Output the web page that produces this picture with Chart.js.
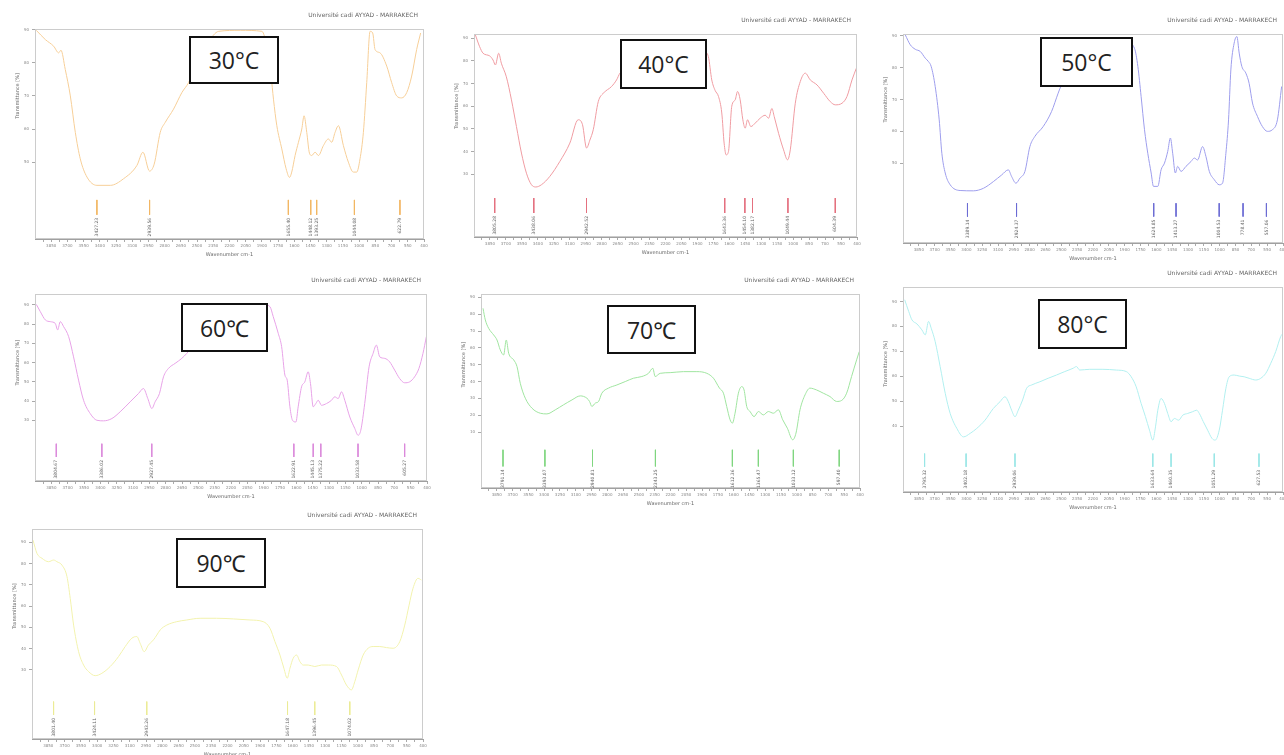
<!DOCTYPE html>
<html lang="en">
<head>
  <meta charset="UTF-8">
  <title>FTIR spectra 30-90 °C</title>
  <script src="https://cdn.jsdelivr.net/npm/chart.js"></script>
  <style>
    body { margin: 0; width: 1284px; height: 755px; overflow: hidden; position: relative; background: #fff; }
    .panel { position: absolute; }
    .tag {
      position: absolute; box-sizing: border-box; border: 2px solid #111; background: #fff;
      display: flex; align-items: center; justify-content: center;
      font-family: "Open Sans", "Noto Sans", sans-serif; font-size: 23px; color: #222; z-index: 5;
    }
  </style>
</head>
<body>
<script>
  // wavenumber axis labels (cm-1)
  const xTicks = [3850, 3700, 3550, 3400, 3250, 3100, 2950, 2800, 2650, 2500, 2350, 2200,
                  2050, 1900, 1750, 1600, 1450, 1300, 1150, 1000, 850, 700, 550, 400];

  // 30 °C
  const wn30 = [3988, 3904, 3827, 3781, 3760, 3720, 3673, 3627, 3581, 3519, 3427, 3303, 3180, 3057, 3001, 2940, 2897, 2841, 2795, 2718, 2641, 2579, 2500, 2400, 2300, 2100, 1900, 1850, 1815, 1793, 1762, 1716, 1676, 1645, 1624, 1593, 1562, 1531, 1510, 1485, 1460, 1439, 1408, 1377, 1331, 1285, 1254, 1223, 1192, 1146, 1100, 1054, 1023, 992, 961, 930, 899, 875, 853, 807, 745, 699, 653, 607, 560, 514, 468, 431];
  const tr30 = [89.8, 87, 85, 83, 83.8, 78, 70, 59, 51, 45.5, 43, 43, 45, 49, 53, 47.3, 49.4, 59, 62, 66, 71, 74, 80, 86, 89.5, 89.8, 89.5, 84, 76, 69, 61, 54, 48, 45.4, 47, 52, 56, 60, 64, 59, 52.7, 52, 53, 52, 55, 57, 56, 59, 61, 55, 50, 47, 47, 51, 59, 74, 89.5, 89, 84, 83, 79, 74, 70, 69.4, 71, 76, 84, 89];
  const peaks30 = [3427.23, 2939.56, 1655.40, 1448.12, 1393.25, 1044.08, 622.79];
  const yt30 = [90, 80, 70, 60, 50];

  // 40 °C
  const wn40 = [3987, 3947, 3915, 3852, 3821, 3799, 3768, 3743, 3696, 3648, 3601, 3554, 3507, 3460, 3419, 3366, 3287, 3193, 3099, 3021, 2980, 2942, 2911, 2879, 2832, 2785, 2707, 2660, 2628, 2500, 2300, 2100, 1900, 1830, 1797, 1765, 1734, 1702, 1671, 1649, 1630, 1608, 1577, 1545, 1523, 1498, 1473, 1451, 1429, 1398, 1357, 1310, 1263, 1231, 1200, 1178, 1137, 1090, 1053, 1027, 980, 933, 886, 839, 776, 713, 651, 604, 541, 494, 447, 406];
  const tr40 = [91.5, 86.3, 83.4, 82.2, 80.4, 78.2, 83.4, 79, 73, 62.8, 51, 39.3, 30.4, 25.3, 24.3, 25.3, 29, 35.6, 43.7, 54, 51.8, 41.5, 45, 49.6, 62, 65.7, 68.7, 71.6, 74.6, 79, 84, 86, 86, 84, 81.9, 71.6, 67, 64.3, 57, 43.7, 38.5, 40, 60, 62.8, 66.5, 62.8, 54, 50.3, 54, 51, 52.5, 54.7, 56, 54.7, 59, 55.4, 48, 40.7, 36.3, 40.7, 61.3, 70.9, 74.6, 71.6, 69.4, 65.7, 62, 60.6, 61.3, 64.3, 71.6, 76.8];
  const peaks40 = [3805.28, 3438.06, 2942.52, 1643.36, 1454.10, 1382.17, 1049.44, 604.39];
  const yt40 = [90, 80, 70, 60, 50, 40, 30];

  // 50 °C
  const wn50 = [3978, 3931, 3884, 3836, 3789, 3758, 3733, 3695, 3657, 3632, 3600, 3553, 3459, 3333, 3238, 3144, 3065, 3002, 2971, 2930, 2892, 2845, 2798, 2751, 2672, 2593, 2530, 2499, 2400, 2200, 2000, 1880, 1807, 1775, 1744, 1712, 1681, 1649, 1627, 1586, 1555, 1523, 1492, 1467, 1445, 1420, 1398, 1366, 1319, 1272, 1240, 1209, 1162, 1130, 1098, 1051, 1004, 973, 941, 916, 894, 863, 837, 815, 790, 752, 721, 689, 642, 595, 548, 501, 453, 413];
  const tr50 = [90.3, 87.2, 85.8, 85.1, 83, 81.9, 80.4, 74.1, 63.6, 53.1, 46.9, 43.2, 41.4, 41.3, 42.1, 44.2, 46.3, 47.9, 45.8, 43.7, 45.3, 47.4, 55.2, 58.4, 61.5, 66.2, 72, 74.6, 80, 85, 87, 88, 86.1, 80.4, 70.9, 60.5, 53.1, 46.9, 42.7, 42.7, 47.9, 50, 53.7, 57.9, 53.1, 46.9, 49, 47.4, 49, 50.5, 51.6, 51, 55.2, 52.1, 47.4, 44.8, 43.2, 43.7, 53.1, 63.6, 79.3, 87.7, 89.8, 84.6, 80.4, 78.3, 75.1, 68.9, 64.7, 61.5, 60, 60.5, 63.6, 74.1];
  const peaks50 = [3389.14, 2924.37, 1624.85, 1413.27, 1004.53, 778.41, 557.06];
  const yt50 = [90, 80, 70, 60, 50];

  // 60 °C
  const wn60 = [3988, 3951, 3905, 3859, 3814, 3792, 3768, 3737, 3691, 3646, 3600, 3554, 3493, 3432, 3370, 3294, 3218, 3126, 3050, 3004, 2964, 2927, 2897, 2857, 2820, 2774, 2713, 2652, 2606, 2500, 2300, 2100, 1950, 1880, 1842, 1812, 1766, 1735, 1705, 1684, 1659, 1635, 1604, 1583, 1552, 1522, 1491, 1470, 1445, 1421, 1399, 1369, 1323, 1277, 1247, 1216, 1185, 1155, 1109, 1063, 1033, 1008, 972, 932, 895, 865, 834, 788, 743, 697, 651, 605, 559, 514, 474, 437, 406];
  const tr60 = [90.3, 86.5, 82.2, 81.3, 80.4, 77, 81.3, 78.7, 73.5, 63, 50.9, 40.4, 33.5, 30, 29.7, 30.9, 34.4, 39.6, 43.9, 46.5, 41.3, 36.1, 39.6, 43.9, 52.6, 57, 59.6, 62.2, 64.8, 72, 80, 85, 88, 90, 89.1, 83.9, 75.2, 68.3, 53.5, 50.9, 37, 30, 29.1, 37, 47.4, 50, 55.2, 49.1, 37, 38.7, 40.4, 37.8, 38.7, 40.4, 42.2, 41.3, 44.8, 40.4, 31.7, 25.7, 22.2, 24.8, 38.7, 57.8, 64.8, 69.1, 63, 62.2, 60.4, 56.1, 51.7, 49.5, 50, 52.6, 57, 64.8, 73.5];
  const peaks60 = [3804.67, 3386.02, 2927.45, 1622.91, 1445.13, 1375.22, 1033.58, 605.27];
  const yt60 = [90, 80, 70, 60, 50, 40, 30];

  // 70 °C
  const wn70 = [3981, 3959, 3927, 3880, 3848, 3817, 3785, 3760, 3737, 3690, 3658, 3627, 3579, 3516, 3437, 3374, 3295, 3216, 3136, 3057, 2994, 2969, 2947, 2915, 2883, 2852, 2789, 2709, 2630, 2551, 2472, 2409, 2368, 2346, 2298, 2203, 2077, 1950, 1855, 1792, 1735, 1697, 1666, 1634, 1612, 1587, 1555, 1524, 1501, 1476, 1444, 1406, 1365, 1318, 1270, 1223, 1175, 1134, 1090, 1039, 1008, 970, 922, 875, 812, 749, 685, 622, 574, 527, 480, 432, 407];
  const tr70 = [83.5, 76.6, 71.6, 67.7, 64.7, 58.8, 55.8, 64.7, 56.8, 52.9, 48.9, 39, 30.1, 24.2, 21.2, 20.8, 23.2, 26.2, 29.1, 31.5, 30.1, 28.2, 25.2, 27.2, 28.2, 33.1, 36.1, 38, 40, 42, 43, 44.9, 47.9, 43, 44.9, 45.3, 45.9, 45.9, 44.9, 42, 36.1, 33.1, 25.2, 17.3, 15.3, 21.2, 33.1, 37, 35, 25.2, 22.2, 19.2, 22.2, 20.2, 22.2, 21.2, 23.2, 17.3, 12.3, 5.4, 9.4, 23.2, 32.1, 36.1, 35, 33.1, 31.1, 28.2, 28.8, 33.1, 43, 52.9, 57.8];
  const peaks70 = [3791.14, 3393.07, 2940.81, 2343.25, 1612.36, 1365.47, 1033.12, 597.40];
  const yt70 = [90, 80, 70, 60, 50, 40, 30, 20, 10];

  // 80 °C
  const wn80 = [3984, 3946, 3915, 3868, 3821, 3789, 3758, 3733, 3695, 3648, 3600, 3553, 3490, 3427, 3364, 3301, 3223, 3144, 3081, 3034, 3002, 2971, 2939, 2908, 2867, 2829, 2782, 2703, 2625, 2546, 2467, 2389, 2357, 2326, 2231, 2106, 1980, 1885, 1838, 1791, 1744, 1703, 1665, 1633, 1608, 1586, 1555, 1523, 1492, 1460, 1429, 1388, 1350, 1303, 1256, 1218, 1193, 1155, 1114, 1073, 1042, 1004, 973, 941, 910, 863, 815, 768, 721, 658, 611, 563, 516, 469, 422, 400];
  const tr80 = [90.7, 86, 82.6, 81, 78.6, 76.6, 82, 79.3, 73.9, 63.9, 53.2, 45.1, 39.1, 35.7, 37.1, 39.1, 42.4, 47.1, 49.8, 51.8, 49.8, 46.4, 43.8, 46.4, 50.5, 55.2, 56.5, 57.8, 59.2, 60.5, 61.9, 63.2, 63.9, 62.5, 62.8, 62.8, 62.5, 61.9, 59.8, 55.8, 49.1, 43.8, 38.4, 34.4, 39.7, 46.4, 51.1, 49.1, 45.1, 41.8, 43.1, 42.4, 44.4, 45.1, 45.8, 46.4, 45.1, 41.8, 38.4, 35.1, 34.4, 38.4, 46.4, 55.2, 59.8, 60.5, 60.1, 59.8, 59.2, 58.5, 59.2, 61.2, 65.2, 69.9, 75.9, 77.3];
  const peaks80 = [3795.32, 3402.18, 2939.06, 1633.64, 1460.35, 1051.29, 627.53];
  const yt80 = [90, 80, 70, 60, 50, 40];

  // 90 °C
  const wn90 = [3991, 3954, 3908, 3847, 3801, 3770, 3724, 3678, 3648, 3617, 3571, 3525, 3479, 3418, 3357, 3280, 3203, 3142, 3081, 3035, 3004, 2967, 2928, 2882, 2851, 2820, 2759, 2667, 2575, 2453, 2300, 2146, 1993, 1871, 1809, 1763, 1717, 1681, 1650, 1625, 1595, 1564, 1533, 1503, 1457, 1396, 1334, 1273, 1196, 1150, 1105, 1059, 1028, 997, 951, 905, 859, 798, 736, 675, 614, 568, 528, 492, 446, 415];
  const tr90 = [91.1, 84.8, 82.5, 80.9, 81.7, 80.9, 79.3, 73.9, 63.7, 51.1, 38.6, 32.3, 29.2, 27.3, 28.4, 31.6, 36.3, 41, 44.9, 45.7, 42.5, 38.6, 41.7, 44.1, 46.4, 48.8, 51.1, 52.7, 53.5, 54.3, 54.3, 54, 53.5, 52.7, 49.6, 43.3, 37, 30.8, 26.1, 30.8, 35.5, 37, 33.9, 32.3, 32.3, 31.6, 32.3, 32.3, 31.6, 27.6, 22.9, 20.6, 24.5, 30, 37, 40.2, 41, 41, 40.5, 40.2, 43.3, 51.1, 60.5, 68.4, 73.1, 72.3];
  const peaks90 = [3801.40, 3424.11, 2943.26, 1647.18, 1396.45, 1074.02];
  const yt90 = [90, 80, 70, 60, 50, 40, 30];

  // layout of each spectrum on the page: plot box [left, top, right, bottom], y range, peak-mark span, label box
  const panels = [
    { tag: '30°C', wn: wn30, tr: tr30, peaks: peaks30, yTicks: yt30, line: '#f7cf98', mark: '#f2b764', box: [35, 29, 424, 239], y: [26.8, 90.2], mk: [38.6, 34.1], tagBox: [189, 36, 90, 48] },
    { tag: '40°C', wn: wn40, tr: tr40, peaks: peaks40, yTicks: yt40, line: '#f09ca2', mark: '#e4707f', box: [474, 34, 857, 237], y: [2.2, 91.9], mk: [19.4, 12.8], tagBox: [620, 39, 87, 50] },
    { tag: '50°C', wn: wn50, tr: tr50, peaks: peaks50, yTicks: yt50, line: '#9e9eed', mark: '#6c6cd4', box: [903, 34, 1283, 243], y: [24.9, 90.6], mk: [37.4, 33.2], tagBox: [1040, 37, 93, 50] },
    { tag: '60℃', wn: wn60, tr: tr60, peaks: peaks60, yTicks: yt60, line: '#e8a3e8', mark: '#db8adb', box: [35, 294, 427, 481], y: [-1.6, 95.7], mk: [17.8, 10.9], tagBox: [181, 303, 87, 49] },
    { tag: '70℃', wn: wn70, tr: tr70, peaks: peaks70, yTicks: yt70, line: '#a0e5a0', mark: '#80d680', box: [481, 294, 860, 488], y: [-23.2, 92], mk: [-0.5, -10.4], tagBox: [607, 305, 89, 49] },
    { tag: '80°C', wn: wn80, tr: tr80, peaks: peaks80, yTicks: yt80, line: '#b2f0f0', mark: '#9ae6e6', box: [903, 287, 1283, 492], y: [13.6, 95.8], mk: [29, 23.7], tagBox: [1038, 299, 89, 50] },
    { tag: '90℃', wn: wn90, tr: tr90, peaks: peaks90, yTicks: yt90, line: '#f3f3ae', mark: '#ebeb96', box: [32, 529, 423, 739], y: [-2.5, 96.3], mk: [15.1, 8.8], tagBox: [176, 538, 90, 50] }
  ];

  const xMajor = new Set(xTicks);
  const xAll = xTicks.concat(xTicks.map(v => v + 75)).filter(v => v < 4000).sort((a, b) => a - b);
  const tiny = 'DejaVu Sans, sans-serif';

  function makePanel(p) {
    const [l, t, r, b] = p.box;
    const padL = 30, padT = 20, padR = 10, padB = 24;

    const wrap = document.createElement('div');
    wrap.className = 'panel';
    wrap.style.left = (l - padL) + 'px';
    wrap.style.top = (t - padT) + 'px';
    const cv = document.createElement('canvas');
    cv.width = r - l + padL + padR;
    cv.height = b - t + padT + padB;
    wrap.appendChild(cv);
    document.body.appendChild(wrap);

    // frame, header, axis titles and peak labels
    const extras = {
      id: 'extras',
      afterDatasetsDraw(chart) {
        const ctx = chart.ctx, a = chart.chartArea;
        const xs = chart.scales.x, ys = chart.scales.y;
        ctx.save();
        ctx.strokeStyle = '#cccccc';
        ctx.lineWidth = 1;
        ctx.strokeRect(a.left + 0.5, a.top + 0.5, a.right - a.left - 1, a.bottom - a.top - 1);

        ctx.fillStyle = '#666';
        ctx.font = '6px ' + tiny;
        ctx.textAlign = 'right';
        ctx.textBaseline = 'middle';
        ctx.fillText('Université cadi AYYAD - MARRAKECH', a.right - 6, a.top - 14);

        ctx.font = '5px ' + tiny;
        ctx.textAlign = 'center';
        ctx.fillText('Wavenumber cm-1', (a.left + a.right) / 2, a.bottom + 16);

        const yTop = ys.getPixelForValue(p.yTicks[0]);
        const yBot = ys.getPixelForValue(p.yTicks[p.yTicks.length - 1]);
        ctx.save();
        ctx.translate(a.left - 17, (yTop + yBot) / 2);
        ctx.rotate(-Math.PI / 2);
        ctx.fillText('Transmittance [%]', 0, 0);
        ctx.restore();

        ctx.font = '4.5px ' + tiny;
        ctx.fillStyle = '#666';
        p.peaks.forEach(v => {
          const x = xs.getPixelForValue(v);
          const y = ys.getPixelForValue(p.mk[1]) + 3;
          ctx.save();
          ctx.translate(x, y);
          ctx.rotate(-Math.PI / 2);
          ctx.textAlign = 'right';
          ctx.fillText(v.toFixed(2), 0, 0);
          ctx.restore();
        });
        ctx.restore();
      }
    };

    new Chart(cv, {
      type: 'line',
      data: {
        datasets: [
          {
            data: p.wn.map((x, i) => ({ x, y: p.tr[i] })),
            borderColor: p.line, borderWidth: 1, pointRadius: 0,
            cubicInterpolationMode: 'monotone'
          },
          {
            data: p.peaks.flatMap(x => [{ x, y: p.mk[0] }, { x, y: p.mk[1] }, { x, y: null }]),
            borderColor: p.mark, borderWidth: 1, pointRadius: 0, spanGaps: false
          }
        ]
      },
      options: {
        responsive: false,
        animation: false,
        events: [],
        layout: { padding: { top: padT, right: padR, left: 0, bottom: 0 } },
        plugins: { legend: { display: false }, tooltip: { enabled: false } },
        scales: {
          x: {
            type: 'linear', reverse: true, min: 400, max: 4000,
            afterBuildTicks: s => { s.ticks = xAll.map(v => ({ value: v })); },
            afterFit: s => { s.height = padB; },
            ticks: {
              autoSkip: false, maxRotation: 0, padding: 2, color: '#888',
              font: { size: 4, family: tiny },
              callback: v => xMajor.has(v) ? String(v) : ''
            },
            grid: { drawOnChartArea: false, tickLength: 3, color: '#aaa' },
            border: { color: '#a0a0a0' }
          },
          y: {
            min: p.y[0], max: p.y[1],
            afterBuildTicks: s => { s.ticks = p.yTicks.map(v => ({ value: v })); },
            afterFit: s => { s.width = padL; },
            ticks: { padding: 3, color: '#888', font: { size: 4, family: tiny } },
            grid: { drawOnChartArea: false, tickLength: 3, color: '#aaa' },
            border: { color: '#a0a0a0' }
          }
        }
      },
      plugins: [extras]
    });

    const tag = document.createElement('div');
    tag.className = 'tag';
    const [tx, ty, tw, th] = p.tagBox;
    tag.style.left = tx + 'px';
    tag.style.top = ty + 'px';
    tag.style.width = tw + 'px';
    tag.style.height = th + 'px';
    tag.textContent = p.tag;
    document.body.appendChild(tag);
  }

  panels.forEach(makePanel);
</script>
</body>
</html>
